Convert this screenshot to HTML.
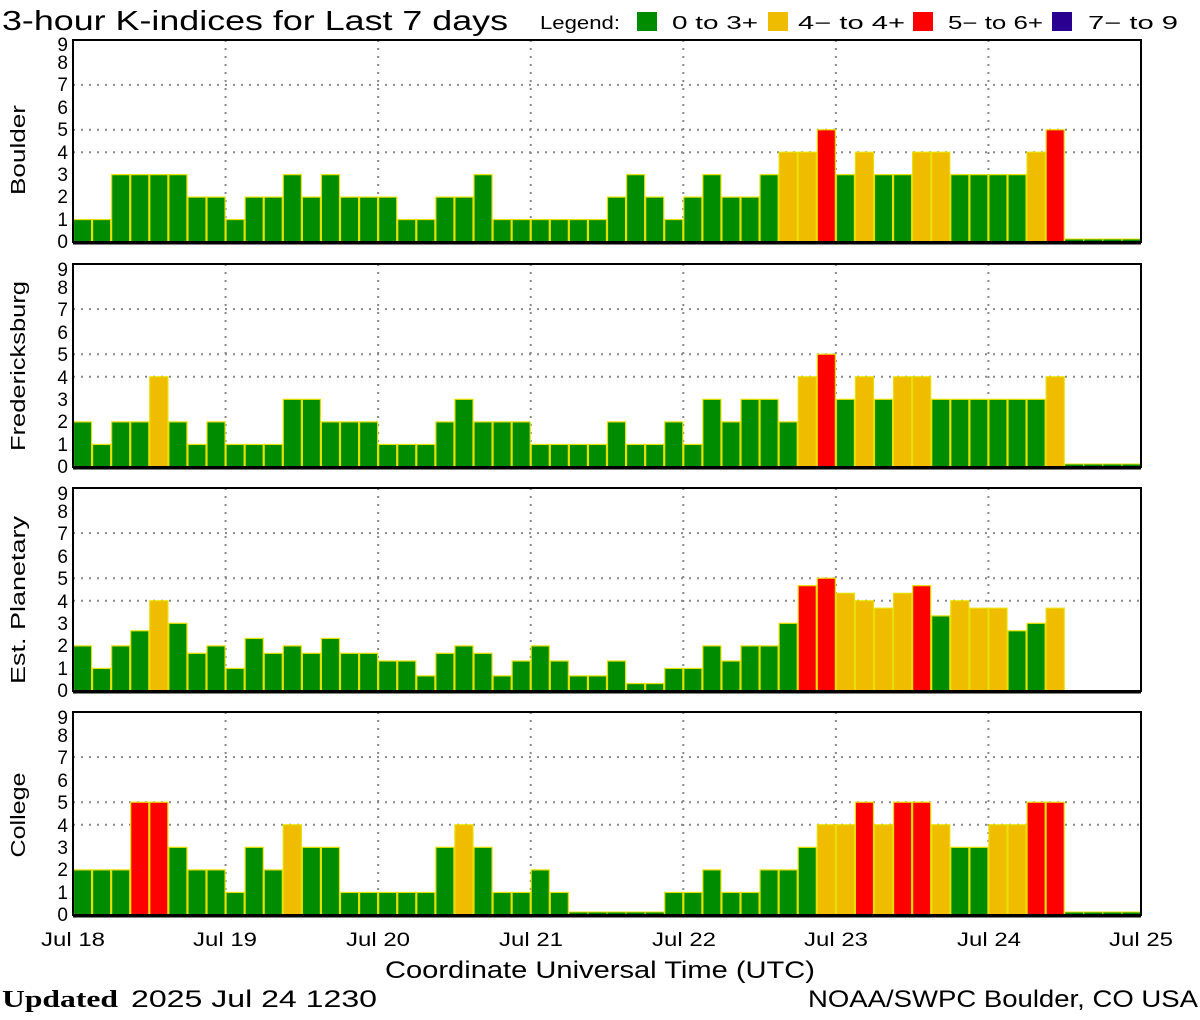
<!DOCTYPE html>
<html><head><meta charset="utf-8"><style>
html,body{margin:0;padding:0;background:#fff;}
svg{display:block;font-family:"Liberation Sans","DejaVu Sans",sans-serif;}
</style></head><body>
<svg id="s" width="1200" height="1020" viewBox="0 0 1200 1020" xmlns="http://www.w3.org/2000/svg">
<rect width="1200" height="1020" fill="#fff"/>
<text x="2" y="30" font-size="28" fill="#000" textLength="506" lengthAdjust="spacingAndGlyphs">3-hour K-indices for Last 7 days</text>
<text x="540" y="29" font-size="18" fill="#000" textLength="80" lengthAdjust="spacingAndGlyphs">Legend:</text>
<rect x="637" y="12" width="20" height="19" fill="#008c00"/>
<text x="672" y="29" font-size="18" textLength="86" lengthAdjust="spacingAndGlyphs">0 to 3+</text>
<rect x="768" y="12" width="20" height="19" fill="#f0bc00"/>
<text x="798" y="29" font-size="18" textLength="107" lengthAdjust="spacingAndGlyphs">4− to 4+</text>
<rect x="913" y="12" width="20" height="19" fill="#ff0000"/>
<text x="948" y="29" font-size="18" textLength="95" lengthAdjust="spacingAndGlyphs">5− to 6+</text>
<rect x="1052" y="12" width="20" height="19" fill="#2a0090"/>
<text x="1088" y="29" font-size="18" textLength="90" lengthAdjust="spacingAndGlyphs">7− to 9</text>
<g id="panels"></g>
<g font-size="20" text-anchor="middle" fill="#000">
<text transform="translate(25,150) rotate(-90)" textLength="90" lengthAdjust="spacingAndGlyphs">Boulder</text>
<text transform="translate(25,366) rotate(-90)" textLength="170" lengthAdjust="spacingAndGlyphs">Fredericksburg</text>
<text transform="translate(25,600) rotate(-90)" textLength="168" lengthAdjust="spacingAndGlyphs">Est. Planetary</text>
<text transform="translate(25,815) rotate(-90)" textLength="85" lengthAdjust="spacingAndGlyphs">College</text>
</g>
<g font-size="19" text-anchor="middle" fill="#000">
<text x="73" y="946" textLength="64" lengthAdjust="spacingAndGlyphs">Jul 18</text>
<text x="225" y="946" textLength="64" lengthAdjust="spacingAndGlyphs">Jul 19</text>
<text x="378" y="946" textLength="64" lengthAdjust="spacingAndGlyphs">Jul 20</text>
<text x="531" y="946" textLength="64" lengthAdjust="spacingAndGlyphs">Jul 21</text>
<text x="684" y="946" textLength="64" lengthAdjust="spacingAndGlyphs">Jul 22</text>
<text x="836" y="946" textLength="64" lengthAdjust="spacingAndGlyphs">Jul 23</text>
<text x="989" y="946" textLength="64" lengthAdjust="spacingAndGlyphs">Jul 24</text>
<text x="1141" y="946" textLength="64" lengthAdjust="spacingAndGlyphs">Jul 25</text>
</g>
<text x="385" y="978" font-size="24" textLength="430" lengthAdjust="spacingAndGlyphs">Coordinate Universal Time (UTC)</text>
<text x="2" y="1007" font-size="24" font-family="Liberation Serif,serif" font-weight="bold" textLength="116" lengthAdjust="spacingAndGlyphs">Updated</text>
<text x="131" y="1007" font-size="24" textLength="246" lengthAdjust="spacingAndGlyphs">2025 Jul 24 1230</text>
<text x="808" y="1007" font-size="24" textLength="390" lengthAdjust="spacingAndGlyphs">NOAA/SWPC Boulder, CO USA</text>
<g font-size="19" text-anchor="end" fill="#000">
<text x="68" y="248">0</text><text x="68" y="226">1</text><text x="68" y="203">2</text><text x="68" y="181">3</text><text x="68" y="159">4</text><text x="68" y="136">5</text><text x="68" y="114">6</text><text x="68" y="91">7</text><text x="68" y="69">8</text><text x="68" y="51">9</text>
<text x="68" y="473">0</text><text x="68" y="451">1</text><text x="68" y="428">2</text><text x="68" y="406">3</text><text x="68" y="384">4</text><text x="68" y="361">5</text><text x="68" y="339">6</text><text x="68" y="316">7</text><text x="68" y="294">8</text><text x="68" y="276">9</text>
<text x="68" y="697">0</text><text x="68" y="675">1</text><text x="68" y="652">2</text><text x="68" y="630">3</text><text x="68" y="608">4</text><text x="68" y="585">5</text><text x="68" y="563">6</text><text x="68" y="540">7</text><text x="68" y="518">8</text><text x="68" y="500">9</text>
<text x="68" y="921">0</text><text x="68" y="899">1</text><text x="68" y="876">2</text><text x="68" y="854">3</text><text x="68" y="832">4</text><text x="68" y="809">5</text><text x="68" y="787">6</text><text x="68" y="764">7</text><text x="68" y="742">8</text><text x="68" y="724">9</text>
</g>
</svg>
<script>
var data=[
[1,1,3,3,3,3,2,2, 1,2,2,3,2,3,2,2, 2,1,1,2,2,3,1,1, 1,1,1,1,2,3,2,1, 2,3,2,2,3,4,4,5, 3,4,3,3,4,4,3,3, 3,3,4,5,-1,-1,-1,-1],
[2,1,2,2,4,2,1,2, 1,1,1,3,3,2,2,2, 1,1,1,2,3,2,2,2, 1,1,1,1,2,1,1,2, 1,3,2,3,3,2,4,5, 3,4,3,4,4,3,3,3, 3,3,3,4,-1,-1,-1,-1],
[2,1,2,2.67,4,3,1.67,2, 1,2.33,1.67,2,1.67,2.33,1.67,1.67, 1.33,1.33,0.67,1.67,2,1.67,0.67,1.33, 2,1.33,0.67,0.67,1.33,0.33,0.33,1, 1,2,1.33,2,2,3,4.67,5, 4.33,4,3.67,4.33,4.67,3.33,4,3.67, 3.67,2.67,3,3.67,-2,-2,-2,-2],
[2,2,2,5,5,3,2,2, 1,3,2,4,3,3,1,1, 1,1,1,3,4,3,1,1, 2,1,-1,-1,-1,-1,-1,1, 1,2,1,1,2,2,3,4, 4,5,4,5,5,4,3,3, 4,4,5,5,-1,-1,-1,-1]];
var tops=[40,264,488,712],bases=[242,467,691,915];
var x0=73,x1=1141,bw=(x1-x0)/56;
var h='';
function col(v,p){ if(p==2){ if(v>=4.67) return '#ff0000'; if(v>=3.67) return '#f0bc00'; return '#008c00';}
 if(v>=5) return '#ff0000'; if(v>=4) return '#f0bc00'; return '#008c00';}
for(var p=0;p<4;p++){
 var t=tops[p],b=bases[p],u=(b-t)/9;
 [4,5,7].forEach(function(k){var y=b-k*u;h+='<line x1="'+x0+'" y1="'+y+'" x2="'+x1+'" y2="'+y+'" stroke="#888" stroke-width="2" stroke-dasharray="2,6"/>';});
 for(var d=1;d<7;d++){var x=x0+d*8*bw;h+='<line x1="'+x+'" y1="'+t+'" x2="'+x+'" y2="'+b+'" stroke="#888" stroke-width="2" stroke-dasharray="2,6"/>';}
 data[p].forEach(function(v,i){
  var x=x0+i*bw;
  if(v==-2){return;}
  if(v==-1){h+='<rect x="'+x+'" y="'+(b-3)+'" width="'+bw+'" height="3" fill="#008c00" stroke="#e8e000" stroke-width="1"/>';return;}
  var y=b-v*u;
  h+='<rect x="'+(x+0.5)+'" y="'+y+'" width="'+(bw-1)+'" height="'+(b-y)+'" fill="'+col(v,p)+'" stroke="#e8e000" stroke-width="1.2"/>';
 });
 h+='<rect x="'+x0+'" y="'+t+'" width="'+(x1-x0)+'" height="'+(b-t)+'" fill="none" stroke="#000" stroke-width="2"/>';
 h+='<line x1="'+x0+'" y1="'+(b+1)+'" x2="'+x1+'" y2="'+(b+1)+'" stroke="#000" stroke-width="3"/>';
}
document.getElementById('panels').innerHTML=h;
</script>
</body></html>
